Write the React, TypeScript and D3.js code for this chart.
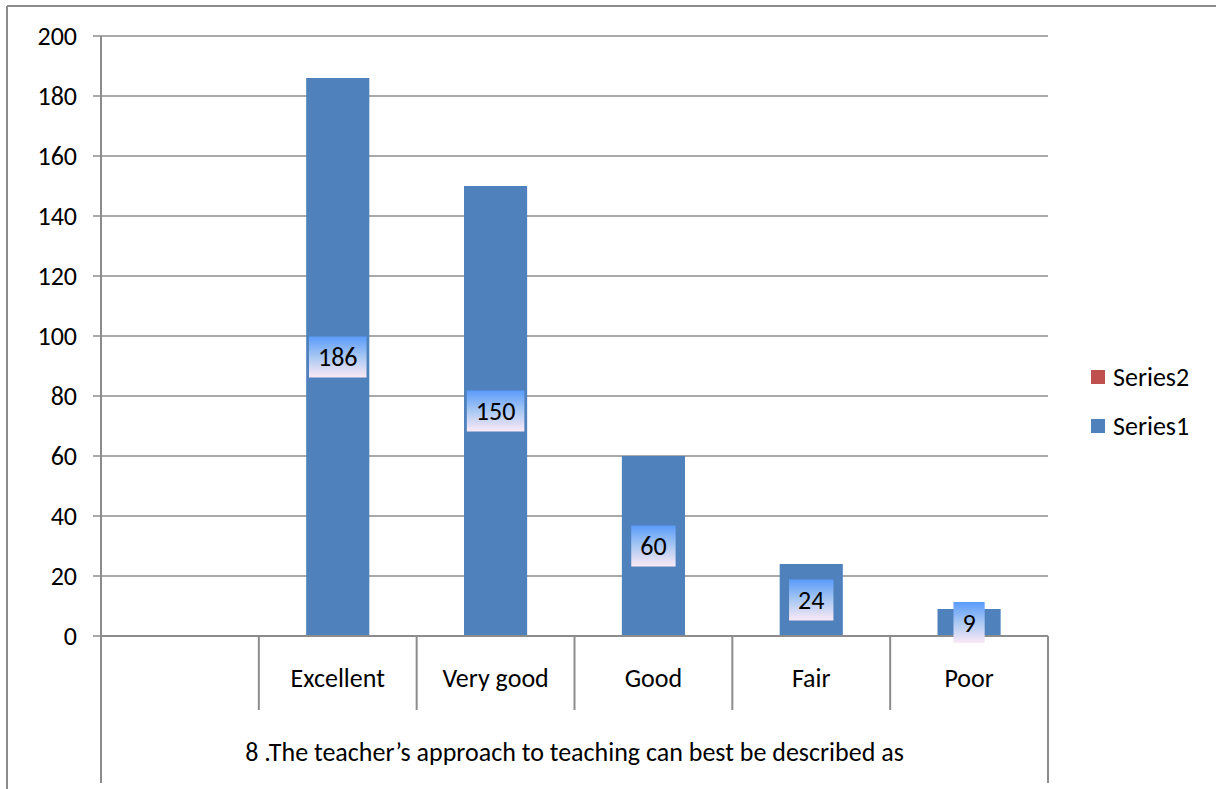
import React from "react";
import * as d3 from "d3";

const categories = ["", "Excellent", "Very good", "Good", "Fair", "Poor"];
const series1 = [null, 186, 150, 60, 24, 9];
const yTicks = [0, 20, 40, 60, 80, 100, 120, 140, 160, 180, 200];
const legendItems = [
  { name: "Series2", color: "#c0504d" },
  { name: "Series1", color: "#4f81bd" },
];
const axisTitle = "8 .The teacher\u2019s approach to teaching can best be described as";

const W = 1216;
const H = 789;
const FONT = "Carlito, Lato, 'Open Sans', sans-serif";
const GRID = "#8c8c8c";

export default function App() {
  const left = 101, right = 1048, top = 36, bottom = 636;
  const x = d3.scaleBand<string>().domain(categories.map((c, i) => String(i))).range([left, right]).paddingInner(0).paddingOuter(0);
  const y = d3.scaleLinear().domain([0, 200]).range([bottom, top]);
  const barW = x.bandwidth() * 0.4;
  const fs = 26;

  const measure = (s: string) => s.length * fs * 0.507;

  return (
    <svg width={W} height={H} style={{ position: "absolute", left: 0, top: 0, fontFamily: FONT }}>
      <defs>
        <linearGradient id="lblGrad" x1="0" y1="0" x2="0" y2="1">
          <stop offset="0%" stopColor="#5a9bfa" />
          <stop offset="50%" stopColor="#a9c8f3" />
          <stop offset="100%" stopColor="#fbe9f5" />
        </linearGradient>
      </defs>
      <rect x={0} y={0} width={W} height={H} fill="#fff" />
      {/* outer border */}
      <line x1={7} y1={6} x2={W} y2={6} stroke={GRID} strokeWidth={2} />
      <line x1={7} y1={6} x2={7} y2={H} stroke={GRID} strokeWidth={2} />

      {/* gridlines and y ticks */}
      {yTicks.map((t) => (
        <g key={t}>
          <line x1={93} x2={right} y1={y(t)} y2={y(t)} stroke={GRID} strokeWidth={1.5} />
          <text x={77} y={y(t)} dy="0.35em" textAnchor="end" fontSize={fs} fill="#000">{t}</text>
        </g>
      ))}

      {/* bars */}
      {series1.map((v, i) =>
        v == null ? null : (
          <rect key={i} x={x(String(i))! + x.bandwidth() / 2 - barW / 2} y={y(v)} width={barW} height={y(0) - y(v)} fill="#4f81bd" />
        )
      )}

      {/* axes lines */}
      <line x1={left} x2={left} y1={top} y2={783} stroke={GRID} strokeWidth={2} />
      <line x1={right} x2={right} y1={bottom} y2={783} stroke={GRID} strokeWidth={2} />
      <line x1={left} x2={right} y1={bottom} y2={bottom} stroke={GRID} strokeWidth={2} />
      {categories.slice(1).map((c, i) => (
        <line key={c} x1={x(String(i + 1))!} x2={x(String(i + 1))!} y1={bottom} y2={710} stroke={GRID} strokeWidth={2} />
      ))}

      {/* category labels */}
      {categories.map((c, i) => (
        <text key={i} x={x(String(i))! + x.bandwidth() / 2} y={687} textAnchor="middle" fontSize={fs} fill="#000">{c}</text>
      ))}
      <text x={(left + right) / 2} y={761} textAnchor="middle" fontSize={fs} fill="#000">{axisTitle}</text>

      {/* data labels */}
      {series1.map((v, i) => {
        if (v == null) return null;
        const cx = x(String(i))! + x.bandwidth() / 2;
        const cy = y(v / 2);
        const label = String(v);
        const w = measure(label) + 18;
        const h = 41;
        return (
          <g key={"l" + i}>
            <rect x={cx - w / 2} y={cy - h / 2} width={w} height={h} fill="url(#lblGrad)" />
            <text x={cx} y={cy} dy="0.35em" textAnchor="middle" fontSize={fs} fill="#000">{label}</text>
          </g>
        );
      })}

      {/* legend */}
      {legendItems.map((it, i) => (
        <g key={it.name} transform={`translate(1091, ${377 + i * 49})`}>
          <rect x={0} y={-7} width={14} height={14} fill={it.color} />
          <text x={22} y={0} dy="0.35em" fontSize={fs} fill="#000">{it.name}</text>
        </g>
      ))}
    </svg>
  );
}
